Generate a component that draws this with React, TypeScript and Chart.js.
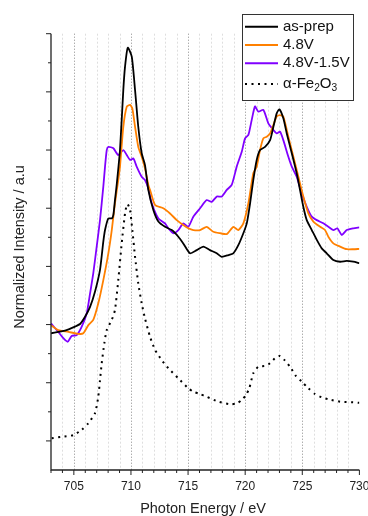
import React, { useEffect, useRef } from "react";
import { Chart, registerables } from "chart.js";

Chart.register(...registerables);

// ---- data (photon energy in eV, normalized intensity with vertical offsets) ----
const asPrepE = [703.0, 704.23, 705.1, 705.54, 705.98, 706.42, 706.85, 707.29, 707.58, 707.73, 708.02, 708.32, 708.46, 708.6, 708.75, 709.04, 709.33, 709.48, 709.72, 710.07, 710.36, 710.64, 710.94, 711.23, 711.52, 711.96, 712.4, 712.98, 713.57, 714.15, 714.58, 715.17, 715.76, 716.34, 716.92, 717.51, 717.95, 718.53, 718.96, 719.4, 719.84, 720.14, 720.43, 720.71, 721.01, 721.3, 721.74, 722.18, 722.47, 722.76, 722.99, 723.34, 723.64, 724.08, 724.51, 724.8, 725.09, 725.39, 725.83, 726.27, 726.7, 727.14, 727.72, 728.31, 728.89, 729.47, 730.0];
const asPrepI = [4.7, 4.79, 4.93, 5.02, 5.27, 5.61, 6.13, 6.88, 7.85, 8.25, 8.65, 8.65, 8.77, 9.28, 9.8, 11.0, 13.06, 13.86, 14.52, 14.21, 13.06, 11.8, 10.89, 10.48, 9.63, 8.94, 8.54, 8.36, 8.25, 8.02, 7.79, 7.45, 7.56, 7.68, 7.56, 7.45, 7.33, 7.39, 7.45, 7.73, 8.14, 8.48, 9.17, 9.97, 10.66, 11.0, 11.11, 11.34, 11.8, 12.26, 12.4, 12.09, 11.57, 10.89, 10.2, 9.63, 9.05, 8.59, 8.25, 7.91, 7.62, 7.45, 7.22, 7.16, 7.19, 7.16, 7.11];

const v48E = [703.0, 703.64, 704.51, 705.39, 705.83, 706.27, 706.7, 707.14, 707.58, 708.02, 708.32, 708.6, 708.89, 709.04, 709.33, 709.63, 709.92, 710.12, 710.36, 710.64, 710.94, 711.23, 711.52, 711.67, 712.11, 712.83, 713.42, 714.01, 714.58, 715.02, 715.46, 716.05, 716.63, 717.21, 717.8, 718.39, 718.96, 719.4, 719.84, 720.28, 720.71, 721.01, 721.3, 721.59, 721.89, 722.18, 722.47, 722.76, 723.05, 723.34, 723.78, 724.22, 724.66, 725.09, 725.53, 725.97, 726.56, 726.99, 727.28, 727.72, 728.31, 728.89, 729.47, 730.0];
const v48I = [4.98, 4.81, 4.75, 4.68, 4.7, 4.98, 5.16, 5.73, 6.53, 7.45, 8.25, 9.17, 9.97, 10.43, 11.8, 12.49, 12.55, 12.43, 11.8, 11.11, 10.77, 10.37, 9.8, 9.63, 9.11, 9.0, 8.82, 8.59, 8.42, 8.31, 8.25, 8.25, 8.36, 8.19, 8.14, 8.11, 8.36, 8.25, 8.48, 9.17, 10.2, 10.43, 11.0, 11.4, 11.46, 11.57, 11.86, 12.15, 12.2, 12.15, 11.46, 10.77, 10.08, 9.4, 8.82, 8.54, 8.36, 8.25, 8.02, 7.79, 7.68, 7.59, 7.59, 7.6];

const v4815E = [703.0, 703.64, 704.08, 704.46, 704.81, 705.25, 705.69, 706.13, 706.42, 706.7, 707.0, 707.29, 707.58, 707.73, 707.88, 708.02, 708.46, 708.89, 709.33, 709.63, 709.92, 710.21, 710.5, 710.94, 711.23, 711.52, 711.82, 712.4, 712.98, 713.27, 713.71, 714.15, 714.58, 715.02, 715.46, 716.05, 716.63, 717.07, 717.51, 717.95, 718.39, 718.82, 719.26, 719.7, 719.99, 720.28, 720.57, 720.86, 721.15, 721.59, 722.03, 722.47, 722.76, 723.05, 723.34, 723.78, 724.08, 724.51, 724.95, 725.39, 725.83, 726.27, 726.84, 727.28, 727.72, 728.07, 728.46, 728.89, 729.47, 730.0];
const v4815I = [5.04, 4.75, 4.53, 4.41, 4.61, 4.64, 4.93, 5.39, 6.07, 6.76, 7.68, 8.59, 9.74, 10.43, 11.0, 11.11, 11.06, 10.83, 11.0, 10.83, 10.66, 10.71, 10.43, 10.08, 9.97, 9.68, 9.17, 8.65, 8.48, 8.31, 8.14, 8.25, 8.48, 8.36, 8.71, 9.0, 9.28, 9.22, 9.4, 9.4, 9.63, 9.8, 10.43, 10.94, 11.4, 11.52, 12.03, 12.5, 12.32, 12.38, 11.92, 11.69, 11.57, 11.63, 11.34, 10.77, 10.43, 10.08, 9.51, 9.05, 8.71, 8.59, 8.48, 8.36, 8.25, 8.31, 8.08, 8.25, 8.31, 8.34];

const fe2o3E = [703.06, 703.94, 704.95, 705.69, 706.27, 706.85, 707.14, 707.29, 707.44, 707.67, 707.88, 708.32, 708.6, 708.89, 709.19, 709.48, 709.63, 709.72, 709.92, 710.12, 710.36, 710.64, 710.94, 711.23, 711.67, 712.11, 712.69, 713.27, 714.15, 715.02, 715.46, 716.05, 716.63, 717.65, 718.67, 719.26, 719.7, 720.08, 720.36, 720.71, 721.15, 721.74, 722.18, 722.61, 723.05, 723.49, 723.93, 724.45, 724.95, 725.53, 726.12, 726.7, 727.28, 728.31, 729.47, 730.0];
const fe2o3I = [1.09, 1.14, 1.2, 1.38, 1.61, 1.95, 2.52, 3.09, 3.67, 4.36, 4.81, 5.16, 5.5, 6.53, 7.79, 8.82, 9.11, 9.14, 8.94, 8.25, 7.33, 6.42, 5.73, 5.21, 4.58, 4.13, 3.78, 3.5, 3.15, 2.81, 2.69, 2.61, 2.52, 2.35, 2.26, 2.29, 2.41, 2.58, 2.81, 3.32, 3.55, 3.58, 3.67, 3.84, 3.92, 3.76, 3.55, 3.23, 3.04, 2.81, 2.61, 2.5, 2.43, 2.35, 2.33, 2.31];

const seriesLabels = ["as-prep", "4.8V", "4.8V-1.5V", "α-Fe_2O_3"];
const seriesColors = ["#000000", "#ff8000", "#8000ff", "#000000"];

const xMin = 703;
const xMax = 730;
const yMin = 0;
const yMax = 15;
const xMajorTicks = [705, 710, 715, 720, 725, 730];
const xTickLabels = ["705", "710", "715", "720", "725", "730"];
const xTitle = "Photon Energy / eV";
const yTitle = "Normalized Intensity / a.u";

const FONT = "'Liberation Sans', Arial, Helvetica, sans-serif";

function pts(e: number[], i: number[]) {
  return e.map((x, k) => ({ x, y: i[k] }));
}

function drawRich(ctx: CanvasRenderingContext2D, text: string, x: number, y: number, size: number) {
  // '_d' marks a subscript character
  let cx = x;
  let i = 0;
  while (i < text.length) {
    if (text[i] === "_" && i + 1 < text.length) {
      ctx.font = `${size * 0.68}px ${FONT}`;
      ctx.fillText(text[i + 1], cx, y + size * 0.3);
      cx += ctx.measureText(text[i + 1]).width;
      i += 2;
    } else {
      ctx.font = `${size}px ${FONT}`;
      ctx.fillText(text[i], cx, y);
      cx += ctx.measureText(text[i]).width;
      i += 1;
    }
  }
}

const decor = {
  id: "decor",
  beforeDatasetsDraw(chart: any) {
    const { ctx, chartArea, scales } = chart;
    const xs = scales.x;
    ctx.save();
    ctx.lineWidth = 1;
    for (let v = xMin + 1; v < xMax; v++) {
      const px = Math.round(xs.getPixelForValue(v)) + 0.5;
      const major = v % 5 === 0;
      ctx.strokeStyle = major ? "#8a8a8a" : "#dedede";
      ctx.setLineDash(major ? [1, 2] : [2, 2]);
      ctx.beginPath();
      ctx.moveTo(px, chartArea.top);
      ctx.lineTo(px, chartArea.bottom);
      ctx.stroke();
    }
    ctx.restore();
  },
  afterDatasetsDraw(chart: any) {
    const { ctx, chartArea, scales } = chart;
    const xs = scales.x;
    const ys = scales.y;
    ctx.save();
    ctx.setLineDash([]);
    ctx.strokeStyle = "#222";
    ctx.lineWidth = 1.3;
    // axis lines
    ctx.beginPath();
    ctx.moveTo(chartArea.left, chartArea.top);
    ctx.lineTo(chartArea.left, chartArea.bottom);
    ctx.lineTo(chartArea.right, chartArea.bottom);
    ctx.stroke();
    ctx.lineWidth = 1;
    // x ticks
    for (let v = xMin; v <= xMax; v++) {
      const px = xs.getPixelForValue(v);
      const len = v % 5 === 0 ? 5 : 3;
      ctx.beginPath();
      ctx.moveTo(px, chartArea.bottom);
      ctx.lineTo(px, chartArea.bottom + len);
      ctx.stroke();
    }
    // y ticks
    for (let v = yMin + 1; v <= yMax; v++) {
      const py = ys.getPixelForValue(v);
      const len = v % 2 === 1 ? 5 : 3;
      ctx.beginPath();
      ctx.moveTo(chartArea.left, py);
      ctx.lineTo(chartArea.left - len, py);
      ctx.stroke();
    }
    // x tick labels
    ctx.fillStyle = "#222";
    ctx.font = `12px ${FONT}`;
    ctx.textAlign = "center";
    ctx.textBaseline = "alphabetic";
    xMajorTicks.forEach((v, k) => {
      ctx.fillText(xTickLabels[k], xs.getPixelForValue(v), chartArea.bottom + 20);
    });
    // titles
    ctx.font = `14.5px ${FONT}`;
    ctx.fillText(xTitle, 203, 512.5);
    ctx.save();
    ctx.translate(24, 247);
    ctx.rotate(-Math.PI / 2);
    ctx.fillText(yTitle, 0, 0);
    ctx.restore();

    // legend
    const bx = 242.5, by = 14.5, bw = 111, bh = 86;
    ctx.fillStyle = "#ffffff";
    ctx.fillRect(bx, by, bw, bh);
    ctx.strokeStyle = "#333";
    ctx.lineWidth = 1;
    ctx.strokeRect(bx, by, bw, bh);
    const rows = [26.7, 45, 63.3, 84];
    chart.data.datasets.forEach((ds: any, k: number) => {
      const y = rows[k];
      ctx.strokeStyle = ds.borderColor;
      ctx.lineWidth = 2;
      ctx.setLineDash(ds.borderDash || []);
      ctx.beginPath();
      ctx.moveTo(245, y);
      ctx.lineTo(278, y);
      ctx.stroke();
      ctx.setLineDash([]);
      ctx.fillStyle = "#111";
      ctx.textAlign = "left";
      ctx.textBaseline = "middle";
      drawRich(ctx, ds.label, 283, y, 15);
    });
    ctx.restore();
  },
};

export default function App() {
  const ref = useRef<HTMLCanvasElement>(null);
  useEffect(() => {
    document.body.style.margin = "0";
    const chart = new Chart(ref.current as HTMLCanvasElement, {
      type: "line",
      data: {
        datasets: [
          { label: seriesLabels[0], data: pts(asPrepE, asPrepI), borderColor: seriesColors[0], borderWidth: 1.8, order: 1 },
          { label: seriesLabels[1], data: pts(v48E, v48I), borderColor: seriesColors[1], borderWidth: 1.8, order: 2 },
          { label: seriesLabels[2], data: pts(v4815E, v4815I), borderColor: seriesColors[2], borderWidth: 1.8, order: 3 },
          { label: seriesLabels[3], data: pts(fe2o3E, fe2o3I), borderColor: seriesColors[3], borderWidth: 2, borderDash: [2, 4.5], order: 0 },
        ] as any,
      },
      options: {
        animation: false,
        responsive: false,
        devicePixelRatio: 1,
        layout: { padding: { left: 51, right: 8.6, top: 33.7, bottom: 46 } },
        elements: { point: { radius: 0 }, line: { tension: 0.2, fill: false } },
        plugins: { legend: { display: false }, tooltip: { enabled: false } },
        scales: {
          x: { type: "linear", min: xMin, max: xMax, display: false },
          y: { type: "linear", min: yMin, max: yMax, display: false },
        },
      },
      plugins: [decor],
    });
    return () => chart.destroy();
  }, []);
  return <canvas ref={ref} width={368} height={516} style={{ display: "block", width: 368, height: 516 }} />;
}
